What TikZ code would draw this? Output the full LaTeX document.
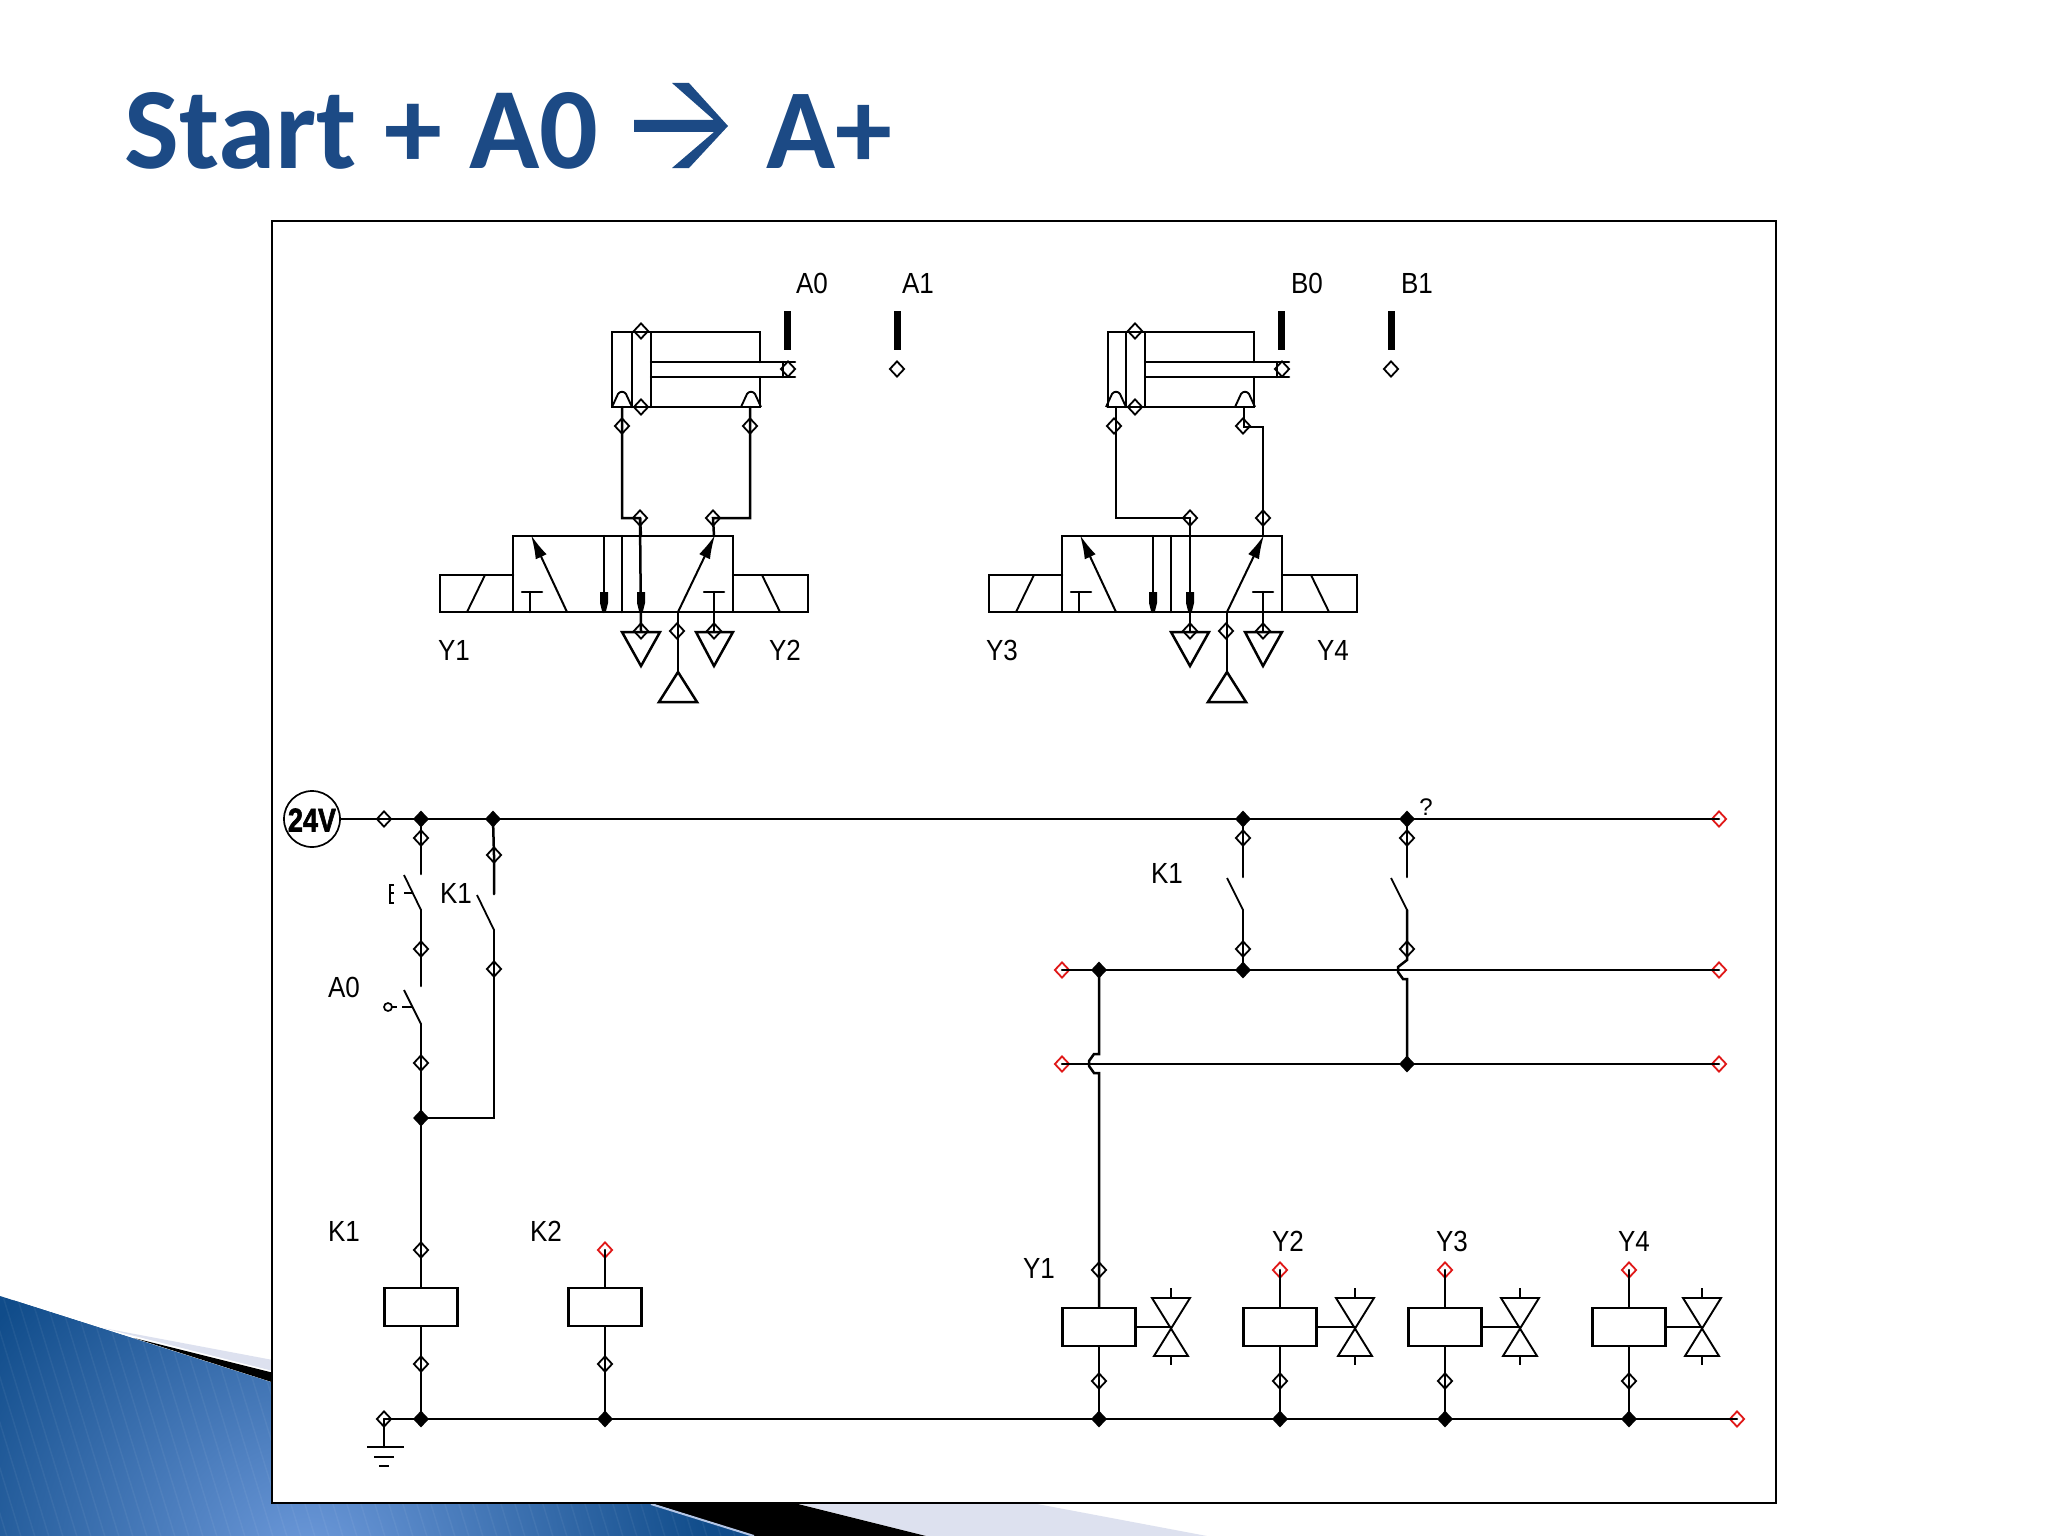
\documentclass[tikz,border=0pt]{standalone}
\usepackage{fontspec}
\setmainfont{Liberation Sans}
\newfontfamily\titlefont[Ligatures=TeX,WordSpace=1.05]{Carlito}
\newfontfamily\heavyfont[FakeBold=2]{Liberation Sans Bold}
\usetikzlibrary{shapes.geometric,arrows.meta}
\definecolor{titleblue}{HTML}{1C4A85}
\definecolor{deepblue}{HTML}{104C8A}
\definecolor{lightblue}{HTML}{6F9BDC}
\definecolor{wedge}{HTML}{DDE1EF}
\definecolor{edgeline}{HTML}{B4C6E6}
\definecolor{portred}{HTML}{E01818}
\tikzset{
  wire/.style={line width=2.5pt,line cap=round,line join=miter},
  thinline/.style={line width=1.9pt},
  blade/.style={line width=1.8pt},
  port/.style={shape=diamond,draw,line width=1.8pt,inner sep=0pt,minimum width=15pt,minimum height=16pt},
  redport/.style={port,draw=portred},
  junction/.style={shape=diamond,fill=black,inner sep=0pt,minimum width=16pt,minimum height=17pt},
  coilbox/.style={draw,line width=2.5pt,fill=white,minimum width=73pt,minimum height=38pt,inner sep=0pt},
  lbl/.style={font=\fontsize{26}{26}\selectfont,inner sep=0pt,yscale=1.12,transform shape},
  head/.style={-{Latex[length=24pt,width=12pt]},line width=2pt}
}
% cylinder with its two sensors; #1 name prefix, #2 shift in x, #3 left wall
\newcommand\cylinderunit[3]{%
\begin{scope}[shift={(#2,0)}]
  \draw[wire] (651,362)--(651,332)--(#3,332)--(#3,407)--(760,407)--(760,377);
  \draw[wire] (651,332)--(760,332)--(760,362);
  \draw[wire] (632,332)--(632,407) (651,362)--(651,407);
  \draw[wire] (651,362)--(795,362) (651,377)--(795,377) (783,362)--(783,377);
  \foreach \bx in {622,751}{
    \draw[thinline] (\bx-10,407) -- (\bx-4,394) .. controls (\bx-2,391) and (\bx+2,391) .. (\bx+4,394) -- (\bx+10,407);
  }
  \node[port] (#1pa) at (641,331) {};
  \node[port] (#1pb) at (641,407) {};
  \node[port] (#1rod) at (788,369) {};
  \node[port] (#1s1) at (897,369) {};
  \fill (784,311) rectangle (791,350);
  \fill (894,311) rectangle (901,350);
\end{scope}}
% 5/2 valve with solenoids, exhausts and supply
\newcommand\valveunit[2]{%
\begin{scope}[shift={(#2,0)}]
  \draw[wire] (513,536) rectangle (733,612);
  \draw[wire] (622,536)--(622,612);
  \draw[wire] (513,575)--(440,575)--(440,612)--(513,612);
  \draw[wire] (733,575)--(808,575)--(808,612)--(733,612);
  \draw[thinline] (467,612)--(485,575) (762,575)--(780,612);
  \draw[wire] (530,612)--(530,592) (522,592)--(542,592);
  \draw[head] (567,612)--(531,535);
  \draw[head] (678,612)--(715,535);
  \draw[wire] (604,536)--(604,612);
  \fill (600,592)--(608,592)--(608,603)--(606,611)--(602,611)--(600,603)--cycle;
  \fill (637,592)--(645,592)--(645,603)--(643,611)--(639,611)--(637,603)--cycle;
  \node[port] (#1ex1) at (641,631) {};
  \node[port] (#1ex2) at (714,631) {};
  \node[port] (#1sup) at (677,631) {};
  \draw[wire] (#1ex1.center)--(641,612);
  \draw[wire] (#1ex2.center)--(714,592) (704,592)--(724,592);
  \draw[wire] (678,612)--(678,672);
  \draw[wire] (622,632)--(660,632)--(641,666)--cycle;
  \draw[wire] (696,632)--(733,632)--(714,666)--cycle;
  \draw[wire] (678,672)--(659,702)--(697,702)--cycle;
\end{scope}}
\newcommand\bowtiesym[2]{%
  \draw[thinline] (#1-19,#2-28)--(#1+19,#2-28)--(#1-17,#2+30)--(#1+17,#2+30)--cycle;
  \draw[thinline] (#1,#2-38)--(#1,#2-28) (#1,#2+30)--(#1,#2+39);}
\begin{document}
\begin{tikzpicture}[x=1pt,y=-1pt]
\useasboundingbox (0,0) rectangle (2048,1536);
\fill[white] (0,0) rectangle (2048,1536);
% slide background
\fill[wedge] (103,1328)--(1207,1536)--(926,1536)--cycle;
\fill[black] (134,1338)--(926,1536)--(754,1536)--cycle;
\begin{scope}
  \clip (0,1296)--(754,1536)--(0,1536)--cycle;
  \fill[deepblue] (0,1296) rectangle (754,1536);
  \shade[inner color=lightblue,outer color=deepblue] (310,1570) circle (400);
  \foreach \sx in {-100,-86,...,700}{
    \draw[white,opacity=.05,line width=1.5pt] (\sx,1280)--(\sx+80,1540);
  }
\end{scope}
\draw[edgeline,line width=2pt] (651,1504)--(754,1536);
% title
\node[anchor=base west,inner sep=0pt,text=titleblue,font=\titlefont\bfseries\fontsize{116}{120}\selectfont] (title) at (124,168) {Start + A0};
\node[anchor=base west,inner sep=0pt,text=titleblue,font=\titlefont\bfseries\fontsize{114}{120}\selectfont] (title2) at (766,168) {A+};
\fill[titleblue] (634,120)--(714,120)--(672,83)--(689,83)--(728,126)--(689,168)--(672,168)--(714,132)--(634,132)--cycle;
% frame
\draw[line width=2.4pt,fill=white] (272,221) rectangle (1776,1503);

% ---- pneumatics
\cylinderunit{a}{0}{612}
\cylinderunit{b}{494}{614}
\valveunit{va}{0}
\valveunit{vb}{549}
\node[port] (a1) at (622,426) {};
\node[port] (a2) at (750,426) {};
\node[port] (a3) at (640,518) {};
\node[port] (a4) at (713,518) {};
\draw[wire] (622,407)--(a1.center)--(622,518)--(a3.center)--(641,536);
\draw[wire] (750,407)--(a2.center)--(750,518)--(a4.center)--(714,536);
\draw[wire] (640,518)--(641,631);
\node[port] (b1) at (1114,426) {};
\node[port] (b2) at (1243,426) {};
\node[port] (b3) at (1190,518) {};
\node[port] (b4) at (1263,518) {};
\draw[wire] (1116,407)--(1116,518)--(b3.center);
\draw[wire] (b3.center)--(1190,631);
\draw[wire] (1244,407)--(1244,427)--(1263,427)--(b4.center)--(1263,536);
\node[lbl] (tA0) at (812,283) {A0};
\node[lbl] (tA1) at (918,283) {A1};
\node[lbl] (tB0) at (1307,283) {B0};
\node[lbl] (tB1) at (1417,283) {B1};
\node[lbl] (tY1) at (454,650) {Y1};
\node[lbl] (tY2) at (785,650) {Y2};
\node[lbl] (tY3) at (1002,650) {Y3};
\node[lbl] (tY4) at (1333,650) {Y4};

% ---- electrical
\node[circle,draw,line width=1.7pt,minimum size=56pt,inner sep=0pt] (volt) at (312,819) {};
\node[font=\heavyfont\fontsize{27}{27}\selectfont,inner sep=0pt,yscale=1.22,transform shape] (voltt) at (312,820) {24V};
\node[port] (p0) at (384,819) {};
\node[junction] (jA) at (421,819) {};
\node[junction] (jB) at (493,819) {};
\node[junction] (jC) at (1243,819) {};
\node[junction] (jD) at (1407,819) {};
\node[redport] (rTop) at (1719,819) {};
\draw[wire] (volt.east)--(p0.center)--(jA.center)--(jB.center)--(jC.center)--(jD.center)--(rTop.center);
\node[font=\fontsize{24}{24}\selectfont,inner sep=0pt] (tq) at (1426,807) {?};

% start rung
\node[port] (s1) at (421,838) {};
\node[port] (s2) at (421,949) {};
\node[port] (s3) at (421,1063) {};
\node[junction] (jE) at (421,1118) {};
\coordinate (c1) at (421,874);
\coordinate (c2) at (421,910);
\coordinate (c3) at (421,986);
\coordinate (c4) at (421,1024);
\draw[wire] (jA.center)--(s1.center)--(c1);
\draw[wire] (c2)--(s2.center)--(c3);
\draw[wire] (c4)--(s3.center)--(jE.center);
\draw[blade] (c2)--(404,875);
\draw[blade] (c4)--(404,990);
\draw[thinline] (394,885)--(390,885)--(390,903)--(394,903) (390,893)--(394,893) (404,893)--(412,893);
\draw[line width=1.7pt] (388,1007) circle (4);
\draw[line width=1.7pt] (392,1007)--(397,1007) (402,1007)--(412,1007);
\node[lbl] (tK1a) at (456,893) {K1};
\node[lbl] (tA0b) at (344,987) {A0};

% self hold rung
\node[port] (h1) at (494,855) {};
\node[port] (h2) at (494,969) {};
\coordinate (d1) at (494,894);
\coordinate (d2) at (494,930);
\draw[wire] (jB.center)--(h1.center)--(d1);
\draw[wire] (d2)--(h2.center)--(494,1118)--(jE.center);
\draw[blade] (d2)--(477,895);

% coils K1, K2
\node[port] (k1t) at (421,1250) {};
\node[coilbox] (K1) at (421,1307) {};
\node[port] (k1b) at (421,1364) {};
\node[junction] (jF) at (421,1419) {};
\draw[wire] (jE.center)--(k1t.center)--(K1.north);
\draw[wire] (K1.south)--(k1b.center)--(jF.center);
\node[redport] (k2t) at (605,1250) {};
\node[coilbox] (K2) at (605,1307) {};
\node[port] (k2b) at (605,1364) {};
\node[junction] (jG) at (605,1419) {};
\draw[wire] (k2t.center)--(K2.north);
\draw[wire] (K2.south)--(k2b.center)--(jG.center);
\node[lbl] (tK1b) at (344,1231) {K1};
\node[lbl] (tK2) at (546,1231) {K2};

% ground
\node[port] (g0) at (384,1419) {};
\coordinate (g1) at (384,1447);
\draw[wire] (g0.center)--(g1);
\draw[wire,line cap=butt] (367,1447)--(404,1447) (374,1457)--(394,1457) (379,1466)--(389,1466);

% right hand relay contacts
\node[port] (r1) at (1243,838) {};
\node[port] (r2) at (1243,949) {};
\node[junction] (jH) at (1243,970) {};
\coordinate (e1) at (1243,877);
\coordinate (e2) at (1243,910);
\draw[wire] (jC.center)--(r1.center)--(e1);
\draw[wire] (e2)--(r2.center)--(jH.center);
\draw[blade] (e2)--(1227,878);
\node[port] (q1) at (1407,838) {};
\node[port] (q2) at (1407,949) {};
\node[junction] (jK) at (1407,1064) {};
\coordinate (f1) at (1407,877);
\coordinate (f2) at (1407,910);
\draw[wire] (jD.center)--(q1.center)--(f1);
\draw[wire] (f2)--(q2.center)--(1407,960) -- (1398,967) -- (1398,972) -- (1403,979) -- (1407,979)--(jK.center);
\draw[blade] (f2)--(1391,878);
\node[lbl] (tK1c) at (1167,873) {K1};

% two horizontal rails
\node[redport] (rL1) at (1062,970) {};
\node[redport] (rR1) at (1719,970) {};
\node[redport] (rL2) at (1062,1064) {};
\node[redport] (rR2) at (1719,1064) {};
\node[junction] (jL) at (1099,970) {};
\draw[wire] (rL1.center)--(jL.center)--(jH.center)--(rR1.center);
\draw[wire] (rL2.center)--(jK.center)--(rR2.center);

% output coils
\node[port] (y1t) at (1099,1270) {};
\node[coilbox] (Y1) at (1099,1327) {};
\node[port] (y1b) at (1099,1381) {};
\node[junction] (jY1) at (1099,1419) {};
\draw[wire] (jL.center)--(1099,1054) -- (1094,1054) -- (1089,1061) -- (1089,1066) -- (1094,1073) -- (1099,1073)--(y1t.center)--(Y1.north);
\draw[wire] (Y1.south)--(y1b.center)--(jY1.center);
\foreach \nm/\vx in {Y2/1280,Y3/1445,Y4/1629}{
  \node[redport] (\nm t) at (\vx,1270) {};
  \node[coilbox] (\nm) at (\vx,1327) {};
  \node[port] (\nm b) at (\vx,1381) {};
  \node[junction] (\nm j) at (\vx,1419) {};
  \draw[wire] (\nm t.center)--(\nm.north);
  \draw[wire] (\nm.south)--(\nm b.center)--(\nm j.center);
}
\node[redport] (rEnd) at (1737,1419) {};
\draw[wire] (g0.center)--(jF.center)--(jG.center)--(jY1.center)--(Y2j.center)--(Y3j.center)--(Y4j.center)--(rEnd.center);
% magnetic valves next to the coils
\foreach \cn/\vx in {Y1/1171,Y2/1355,Y3/1520,Y4/1702}{
  \coordinate (\cn v) at (\vx,1327);
  \draw[wire] (\cn.east)--(\cn v);
  \bowtiesym{\vx}{1326}
}
\node[lbl] (tY1b) at (1039,1268) {Y1};
\node[lbl] (tY2b) at (1288,1241) {Y2};
\node[lbl] (tY3b) at (1452,1241) {Y3};
\node[lbl] (tY4b) at (1634,1241) {Y4};
\end{tikzpicture}
\end{document}
